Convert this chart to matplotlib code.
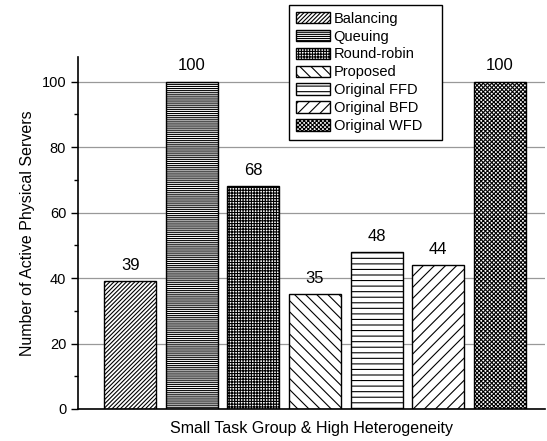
import matplotlib.pyplot as plt

plt.rcParams['font.family'] = ['Liberation Sans', 'DejaVu Sans']
plt.rcParams['hatch.linewidth'] = 0.8

# 데이터
methods = ['Balancing', 'Queuing', 'Round-robin', 'Proposed',
           'Original FFD', 'Original BFD', 'Original WFD']
servers = [39, 100, 68, 35, 48, 44, 100]
hatches = ['////////', '--------', '++++++', '\\\\\\', '---', '///',
           'xxxxxxxx']

fig = plt.figure(figsize=(5.47, 4.41), dpi=100)
ax = fig.add_axes([0.1426, 0.0726, 0.8534, 0.7984])

x = range(len(methods))
bars = ax.bar(x, servers, width=0.845, color='white', edgecolor='black',
              linewidth=1.0, hatch=hatches, label=methods, zorder=2)

# 막대 위 값 표시
for b, v in zip(bars, servers):
    ax.annotate(str(v), (b.get_x() + b.get_width() / 2, v),
                xytext=(0, 6), textcoords='offset points',
                ha='center', va='bottom', fontsize=12)

ax.set_xlim(-0.846, 6.73)
ax.set_ylim(0, 107.6)
ax.set_yticks([0, 20, 40, 60, 80, 100])
ax.set_yticks([10, 30, 50, 70, 90], minor=True)
ax.set_xticks([])
ax.yaxis.grid(True, color='#999999', linewidth=0.9, zorder=0)
ax.set_axisbelow(True)
for s in ['top', 'right']:
    ax.spines[s].set_visible(False)
ax.spines['left'].set_linewidth(1.2)
ax.spines['bottom'].set_linewidth(1.2)
ax.tick_params(axis='y', which='major', length=5, width=1, labelsize=10.5)
ax.tick_params(axis='y', which='minor', length=3, width=1)

ax.set_xlabel('Small Task Group & High Heterogeneity', fontsize=11.5, labelpad=9)
ax.set_ylabel('Number of Active Physical Servers', fontsize=11.5, labelpad=5)

# 범례 (오른쪽 여백 확보를 위해 expand)
leg = fig.legend(handles=bars, labels=methods, loc='upper left',
                 bbox_to_anchor=(289 / 547, 1 - 5 / 441, 153 / 547, 0.0),
                 mode='expand', borderaxespad=0,
                 fontsize=10.5, fancybox=False, edgecolor='black',
                 framealpha=1, handlelength=2.33, handleheight=0.85,
                 labelspacing=0.27, handletextpad=0.28, borderpad=0.45)
leg.get_frame().set_linewidth(1.0)

fig.savefig('out.png', dpi=100)
